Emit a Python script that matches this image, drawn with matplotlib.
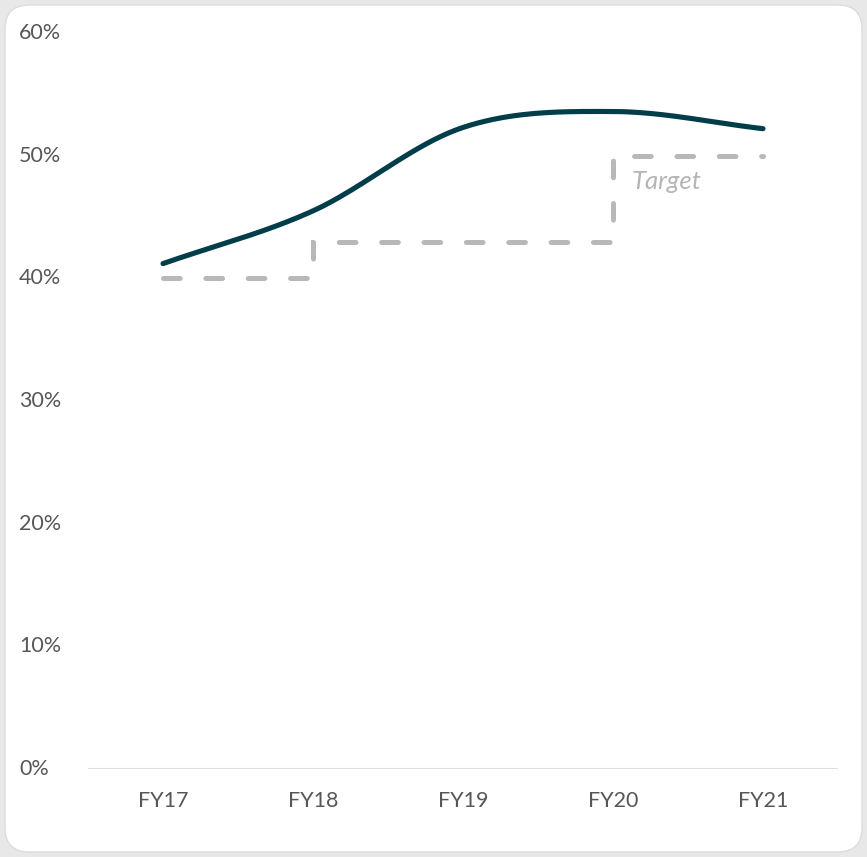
import numpy as np
import matplotlib
matplotlib.use("Agg")
import matplotlib.pyplot as plt
from matplotlib.patches import FancyBboxPatch
from matplotlib.transforms import blended_transform_factory

plt.rcParams['font.family'] = ['Lato', 'DejaVu Sans']
plt.rcParams['lines.scale_dashes'] = False

years = ["FY17", "FY18", "FY19", "FY20", "FY21"]
actual = [41.2, 45.5, 52.3, 53.6, 52.2]
target = [40, 43, 43, 50, 50]
y_ticks = [0, 10, 20, 30, 40, 50, 60]
y_labels = ["0%", "10%", "20%", "30%", "40%", "50%", "60%"]

W, H = 867, 857
fig = plt.figure(figsize=(W / 100, H / 100), dpi=100)
fig.patch.set_facecolor("#e8e8e8")

# white card with rounded corners
card = FancyBboxPatch((5 / W, 5 / H), (W - 10) / W, (H - 10) / H,
                      boxstyle="round,pad=0,rounding_size=0.028",
                      transform=fig.transFigure, facecolor="white",
                      edgecolor="#dcdcdc", linewidth=1.0, zorder=-10)
fig.patches.append(card)

ax = fig.add_axes([88 / W, (H - 769) / H, 750 / W, (769 - 33) / H])
ax.set_facecolor("none")
ax.set_xlim(-0.5, 4.5)
ax.set_ylim(0, 60)

x = np.arange(len(years))


def smooth(xs, ys, n=40):
    """Cubic Hermite curve through the points with finite-difference tangents."""
    xs = np.asarray(xs, float)
    ys = np.asarray(ys, float)
    m = np.gradient(ys, xs)
    px, py = [], []
    for i in range(len(xs) - 1):
        h = xs[i + 1] - xs[i]
        t = np.linspace(0, 1, n, endpoint=(i == len(xs) - 2))
        h00 = 2 * t**3 - 3 * t**2 + 1
        h10 = t**3 - 2 * t**2 + t
        h01 = -2 * t**3 + 3 * t**2
        h11 = t**3 - t**2
        px.append(xs[i] + t * h)
        py.append(h00 * ys[i] + h10 * h * m[i] + h01 * ys[i + 1] + h11 * h * m[i + 1])
    return np.concatenate(px), np.concatenate(py)


sx, sy = smooth(x, actual)
ax.plot(sx, sy, color="#023d4a", lw=3.7, solid_capstyle="round", zorder=3,
        clip_on=False)

tline, = ax.plot(x, target, drawstyle="steps-post", color="#b8b8b8", lw=3.6,
                 zorder=2, clip_on=False)
tline.set_dashes((12.0, 18.5))
tline.set_dash_capstyle("round")
tline.set_dash_joinstyle("miter")

ax.text(3.125, 47.9, "Target", color="#b5b5b5", fontsize=18.5, style="italic",
        ha="left", va="center")

# baseline
ax.axhline(0, color="#dedede", lw=1.5, zorder=1)

for s in ax.spines.values():
    s.set_visible(False)
ax.set_xticks(x)
ax.set_xticklabels(years)
ax.set_yticks(y_ticks)
ax.set_yticklabels([])
ax.tick_params(length=0, colors="#575757", labelsize=15.5)
ax.tick_params(axis="x", pad=16)

ylab_tr = blended_transform_factory(fig.transFigure, ax.transData)
for v, lab in zip(y_ticks, y_labels):
    ax.text(19 / W, v, lab, transform=ylab_tr, ha="left", va="center",
            color="#575757", fontsize=15.5)

fig.savefig("out.png", dpi=100, facecolor=fig.get_facecolor())
